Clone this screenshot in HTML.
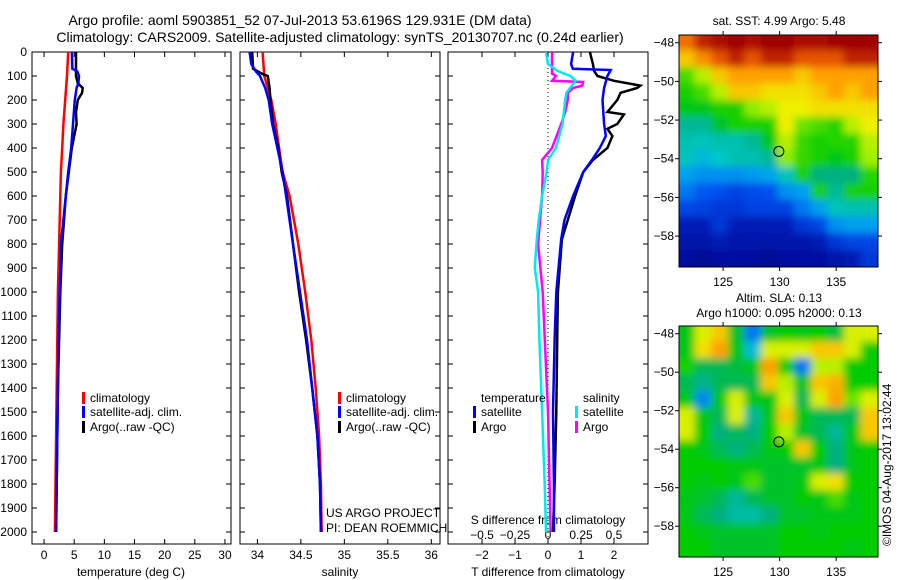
<!DOCTYPE html>
<html><head><meta charset="utf-8"><style>
html,body{margin:0;padding:0;background:#fff;}
svg{display:block;font-family:"Liberation Sans",sans-serif;}
</style></head><body>
<svg id="fig" width="900" height="580" viewBox="0 0 900 580" xmlns="http://www.w3.org/2000/svg">
<defs>
<clipPath id="c1"><rect x="32" y="52" width="199" height="492"/></clipPath>
<clipPath id="c2"><rect x="240" y="52" width="200" height="492"/></clipPath>
<clipPath id="c3"><rect x="448" y="52" width="200" height="492"/></clipPath>
<clipPath id="cm1"><rect x="679" y="35" width="199" height="232"/></clipPath>
<clipPath id="cm2"><rect x="679" y="326" width="199" height="231"/></clipPath>
<filter id="blur" filterUnits="userSpaceOnUse" x="600" y="0" width="300" height="580"><feGaussianBlur stdDeviation="4"/></filter>
</defs>
<text x="300" y="25" font-size="14" text-anchor="middle">Argo profile: aoml 5903851_52 07-Jul-2013 53.6196S 129.931E (DM data)</text>
<text x="340" y="42" font-size="14" text-anchor="middle">Climatology: CARS2009. Satellite-adjusted climatology: synTS_20130707.nc (0.24d earlier)</text>
<g id="g"></g>
</svg>
<script>
// ---------- data ----------
var tDepth   = [0,100,200,300,400,500,600,700,800,1000,1200,1400,1600,1800,2000];
var tClim    = [4.0,3.8,3.5,3.2,3.0,2.8,2.7,2.6,2.5,2.3,2.2,2.1,2.0,1.9,1.8];
var tSatDepth= [0,70,80,100,130,150,200,300,400,500,600,700,800,1000,1200,1400,1600,1800,2000];
var tSat     = [4.6,4.7,5.5,5.8,5.7,5.4,5.1,4.8,4.5,4.0,3.6,3.2,2.8,2.6,2.4,2.3,2.2,2.1,2.0];
var tArgoDepth=[0,100,130,150,170,200,250,300,350,400,500,600,700,800,1000,1200,1400,1600,1800,2000];
var tArgo    = [5.3,5.3,5.6,6.4,6.3,5.6,5.3,5.4,5.0,4.6,4.1,3.6,3.3,3.0,2.7,2.5,2.3,2.2,2.1,2.0];

var sDepth   = [0,100,200,300,400,500,600,800,1000,1200,1400,1600,1800,2000];
var sClim    = [34.06,34.08,34.16,34.21,34.25,34.29,34.37,34.47,34.55,34.62,34.67,34.71,34.73,34.74];
var sSatDepth= [0,50,80,100,150,200,300,400,500,600,800,1000,1200,1400,1600,1800,2000];
var sSat     = [33.91,33.93,33.98,34.03,34.09,34.13,34.17,34.23,34.29,34.33,34.41,34.49,34.57,34.63,34.69,34.72,34.73];
var sArgoDepth=[0,70,90,100,150,200,300,400,500,600,800,1000,1200,1400,1600,1800,2000];
var sArgo    = [33.94,33.95,34.05,34.12,34.14,34.15,34.18,34.24,34.28,34.34,34.41,34.48,34.56,34.63,34.69,34.72,34.73];

var dTSatDepth=[0,50,70,75,100,150,200,300,350,400,450,500,600,700,780,1000,1200,1500,1800,2000];
var dTSat    = [0.76,0.7,0.75,1.9,1.8,1.7,1.65,1.7,1.75,1.57,1.33,1.07,0.76,0.5,0.4,0.25,0.2,0.15,0.18,0.18];
var dTArgoDepth=[0,50,80,100,120,140,150,170,200,250,260,300,320,350,400,450,500,600,700,780,1000,1200,1500,1800,2000];
var dTArgo   = [1.27,1.36,1.4,1.5,2.0,2.8,2.7,2.2,2.1,1.8,2.3,2.1,1.8,1.95,1.8,1.36,1.07,0.82,0.6,0.42,0.3,0.28,0.25,0.2,0.15];
var dSArgoDepth=[0,90,100,120,125,140,150,170,200,250,300,400,430,450,500,600,700,800,1000,1500,2000];
var dSArgo   = [0.03,0.03,0.06,0.03,0.265,0.26,0.19,0.15,0.15,0.13,0.1,0.03,-0.015,-0.045,-0.04,-0.045,-0.06,-0.075,-0.04,0.0,0.02];
var dSSatDepth=[0,50,80,100,120,140,170,200,300,400,450,500,600,700,780,900,1000,1200,1500,1800,2000];
var dSSat    = [-0.015,0,0.075,0.17,0.21,0.18,0.14,0.13,0.11,0.06,0,-0.01,-0.045,-0.07,-0.085,-0.1,-0.075,-0.065,-0.045,-0.025,-0.015];

var depthTicks=[0,100,200,300,400,500,600,700,800,900,1000,1100,1200,1300,1400,1500,1600,1700,1800,1900,2000];
var tTicks=[0,5,10,15,20,25,30];
var sTicks=[34,34.5,35,35.5,36];
var dTTicks=[-2,-1,0,1,2];
var dSTicks=[-0.5,-0.25,0,0.25,0.5];
var lonTicks=[125,130,135];
var latTicks=[-48,-50,-52,-54,-56,-58];

var sstGrid=[
[8.5,9.5,9.8,10,9.8,10,10,9.8,9.8,10,10,10],
[7.5,8.2,8.8,9.5,8.8,9.5,9.5,8.8,8.8,8.8,9.5,9.5],
[5.8,6.5,7.5,8,8,8,8,7.5,8,8,8,8],
[5.5,5.8,6.5,7.5,7.5,7.2,7.2,7.2,7.5,8,7.5,8],
[5.3,5.3,5.5,5.5,6.2,6.5,7,7,7.2,7.2,7.2,7.2],
[4.6,4.6,5.2,5.5,5.5,5.5,7,6,5.8,5.6,6.5,7],
[4.4,4.3,4.4,4.4,4.6,5.3,6.5,5.7,5.5,5.6,5.6,6.5],
[4.3,3.9,4.2,4.4,4.4,4.6,6.2,5.7,5.5,5.3,5.5,6.3],
[3.5,3.3,3.3,3.3,3.4,3.6,4.3,5.5,4.8,4.8,4.8,5.6],
[3,2.6,2.5,2.2,2.4,2.5,3.3,3.5,5.5,4.6,5.5,5.5],
[2.3,2.2,2,2,2.2,2.2,2.2,3,3.5,4.3,4.4,4.4],
[1.3,1.3,2,1.3,1.2,1.3,1.3,2,2.3,3.3,3.5,3.5],
[1,1,1.2,1,1,1,1,1,1.2,2,2.3,2.3],
[0.8,0.5,0.8,0.8,0.8,0.5,0.8,0.8,0.8,1,1.2,2]];
var slaGrid=[
[5.3,6.8,7.5,5.2,3,5.2,5.4,5.3,5.4,5.1,6.8,6.8],
[5.3,7.2,8,5.3,4,6.8,6.8,6.8,7.5,7.5,6.8,5.4],
[5.5,5,5,5.1,5.3,8,5.4,3,6.5,6.5,5.4,5.4],
[5,4.7,5,5,5,7.5,6.5,5.2,7.5,7.8,5.4,5.4],
[5.3,3.2,5.3,6.8,5.3,5.3,6.8,5,6.8,8,6,6.8],
[6.8,5.3,5,6.8,4.6,5.3,7.5,5.3,5,5,5,7.5],
[6.8,5.4,4.8,5,4.8,5.4,6.5,5.2,5,4.6,5.3,7.5],
[5.4,5.3,5,4.8,5,5.3,5.4,7.5,5.4,4.8,5.3,5.4],
[5.4,5.4,5.4,5.3,5.3,5.2,5.2,5.2,5.3,4.8,5.3,5.4],
[5.4,5.3,5.4,5.3,5.8,5.2,5.2,5.3,6.8,7.2,5.4,5.4],
[5.3,5.2,5,4.6,5,5.2,5.2,5.4,5.3,5.8,5.3,5.4],
[5.3,5,4.8,4.5,4.5,4.8,5.2,5.2,5.3,5.3,5.3,5.4],
[5.4,5.3,5.2,5.2,5.2,5.2,5.4,5.4,5.3,5.4,5.4,5.4],
[5.4,5.4,5.2,5.2,5.2,5.2,5.4,5.4,5.4,5.4,5.3,5.4]];
var floatLon=129.931, floatLat=-53.6196;

// ---------- helpers ----------
var NS="http://www.w3.org/2000/svg", G=document.getElementById('g');
function mk(tag,attrs,parent){var e=document.createElementNS(NS,tag);for(var k in attrs)e.setAttribute(k,attrs[k]);(parent||G).appendChild(e);return e;}
function lin(d0,d1,r0,r1){return function(v){return r0+(v-d0)/(d1-d0)*(r1-r0);};}
var yD=lin(0,2050,52,544);
var panels=[
 {x0:32,x1:231,xs:lin(-2,31,32,231),clip:'c1'},
 {x0:240,x1:440,xs:lin(33.8,36.1,240,440),clip:'c2'},
 {x0:448,x1:648,xs:lin(-3.03,3.03,448,648),clip:'c3'}];
function ptsOf(xs,vals,depths,scale){var p=[];for(var i=0;i<vals.length;i++)p.push(xs(vals[i]*(scale||1)).toFixed(1)+','+yD(depths[i]).toFixed(1));return p.join(' ');}
function txt(x,y,s,size,anchor,name,color){var t=mk('text',{x:x,y:y,'font-size':size,'text-anchor':anchor||'start',fill:color||'#000'});t.textContent=s;return t;}

panels.forEach(function(p,pi){
  var f=mk('rect',{x:p.x0,y:52,width:p.x1-p.x0,height:492,fill:'none',stroke:'#000','stroke-width':1});
  
  depthTicks.forEach(function(d){
    var y=yD(d);
    var t1=mk('line',{x1:p.x0,x2:p.x0+5,y1:y,y2:y,stroke:'#000'});
    var t2=mk('line',{x1:p.x1-5,x2:p.x1,y1:y,y2:y,stroke:'#000'});
  });
});
depthTicks.forEach(function(d){txt(27,yD(d)+4,String(d),12,'end','depth-tick-label');});
function xticks(p,ticks,yl,name,scale){ticks.forEach(function(v){var x=p.xs(v*(scale||1));
  var a=mk('line',{x1:x,x2:x,y1:544,y2:539,stroke:'#000'});
  var b=mk('line',{x1:x,x2:x,y1:52,y2:57,stroke:'#000'});
  txt(x,yl,String(v).replace('-','\u2212'),12,'middle',name+'-tick-label');});}
xticks(panels[0],tTicks,559,'temperature');
xticks(panels[1],sTicks,559,'salinity');
xticks(panels[2],dTTicks,559,'t-diff');
dSTicks.forEach(function(v){txt(panels[2].xs(v*4),539,String(v).replace('-','\u2212'),12,'middle','s-diff-tick-label');});
txt(131,576,'temperature (deg C)',12,'middle','x-axis-title-temperature');
txt(340,576,'salinity',12,'middle','x-axis-title-salinity');
txt(548,576,'T difference from climatology',12,'middle','x-axis-title-t-diff');
txt(548,524,'S difference from climatology',12,'middle','s-diff-axis-title');
var zl=mk('line',{x1:548,x2:548,y1:52,y2:544,stroke:'#000','stroke-dasharray':'1,3'});

function series(pi,vals,depths,color,name,scale){var p=panels[pi];
  var l=mk('polyline',{points:ptsOf(p.xs,vals,depths,scale),fill:'none',stroke:color,'stroke-width':2.5,'clip-path':'url(#'+p.clip+')'});
  }
series(0,tClim,tDepth,'#ff0000','temperature-climatology-line');
series(0,tArgo,tArgoDepth,'#000000','temperature-argo-line');
series(0,tSat,tSatDepth,'#0000ff','temperature-satellite-line');
series(1,sClim,sDepth,'#ff0000','salinity-climatology-line');
series(1,sArgo,sArgoDepth,'#000000','salinity-argo-line');
series(1,sSat,sSatDepth,'#0000ff','salinity-satellite-line');
series(2,dSArgo,dSArgoDepth,'#ff00ff','s-diff-argo-line',4);
series(2,dSSat,dSSatDepth,'#00e8f0','s-diff-satellite-line',4);
series(2,dTArgo,dTArgoDepth,'#000000','t-diff-argo-line');
series(2,dTSat,dTSatDepth,'#0000ff','t-diff-satellite-line');

function legItem(x,y,color,label,name){var r=mk('rect',{x:x,y:y-10,width:3,height:12,fill:color});txt(x+8,y,label,12,'start',name);}
[[82,'p1'],[338,'p2']].forEach(function(L){
  legItem(L[0],402,'#ff0000','climatology','legend-'+L[1]+'-climatology');
  legItem(L[0],416,'#0000ff','satellite-adj. clim.','legend-'+L[1]+'-satellite');
  legItem(L[0],431,'#000000','Argo(..raw -QC)','legend-'+L[1]+'-argo');});
txt(481,402,'temperature',12,'start','legend-temperature-header');
txt(583,402,'salinity',12,'start','legend-salinity-header');
legItem(473,416,'#0000ff','satellite','legend-t-satellite');
legItem(473,431,'#000000','Argo','legend-t-argo');
legItem(575,416,'#00e8f0','satellite','legend-s-satellite');
legItem(575,431,'#ff00ff','Argo','legend-s-argo');
txt(326,517,'US ARGO PROJECT',12,'start','project-label');
txt(326,532,'PI: DEAN ROEMMICH',12,'start','pi-label');

// ---------- maps ----------
var stops=[[0,[0,0,128]],[1.5,[0,32,192]],[2.5,[0,80,240]],[3.5,[0,160,240]],[4.2,[0,200,200]],[4.8,[0,176,128]],[5.4,[0,204,0]],[6.3,[160,240,0]],[7,[240,240,0]],[8,[255,160,0]],[9,[224,64,0]],[10,[160,0,0]]];
function cmap(v){if(v<=stops[0][0])return 'rgb('+stops[0][1]+')';for(var i=1;i<stops.length;i++){if(v<=stops[i][0]){var a=stops[i-1],b=stops[i],t=(v-a[0])/(b[0]-a[0]);return 'rgb('+[0,1,2].map(function(k){return Math.round(a[1][k]+t*(b[1][k]-a[1][k]));}).join(',')+')';}}return 'rgb('+stops[stops.length-1][1]+')';}
function drawMap(grid,x0,y0,w,h,clip,name){
  var lonS=lin(121.1,138.7,x0,x0+w), latS=lin(-47.6,-59.6,y0,y0+h);
  var g=mk('g',{'clip-path':'url(#'+clip+')'});
  var inner=mk('g',{filter:'url(#blur)'},g);
  var rows=grid.length, cols=grid[0].length, cw=w/cols, ch=h/rows;
  for(var r=0;r<rows;r++)for(var c=0;c<cols;c++){
    var ex0=(c===0?-12:-1), ey0=(r===0?-12:-1), ex1=(c===cols-1?12:1), ey1=(r===rows-1?12:1);
    var cell=mk('rect',{x:(x0+c*cw+ex0).toFixed(1),y:(y0+r*ch+ey0).toFixed(1),width:(cw+ex1-ex0).toFixed(1),height:(ch+ey1-ey0).toFixed(1),fill:cmap(grid[r][c])},inner);
    }
  var fr=mk('rect',{x:x0,y:y0,width:w,height:h,fill:'none',stroke:'#000'});
  lonTicks.forEach(function(v){var x=lonS(v);
    var a=mk('line',{x1:x,x2:x,y1:y0,y2:y0-4,stroke:'#000'});
    var b=mk('line',{x1:x,x2:x,y1:y0+h,y2:y0+h+4,stroke:'#000'});
    txt(x,y0+h+19,String(v),12,'middle','lon-tick-label');});
  latTicks.forEach(function(v){var y=latS(v);
    var a=mk('line',{x1:x0,x2:x0-4,y1:y,y2:y,stroke:'#000'});
    var b=mk('line',{x1:x0+w,x2:x0+w+4,y1:y,y2:y,stroke:'#000'});
    txt(x0-5,y+4,String(v).replace('-','\u2212'),12,'end','lat-tick-label');});
  var m=mk('circle',{cx:lonS(floatLon),cy:latS(floatLat),r:5,fill:'none',stroke:'#000','stroke-width':1});
}
drawMap(sstGrid,679,35,199,232,'cm1','sst-map');
drawMap(slaGrid,679,326,199,231,'cm2','sla-map');
txt(779,25,'sat. SST: 4.99 Argo: 5.48',12,'middle','sst-map-title');
txt(779,302,'Altim. SLA: 0.13',12,'middle','sla-map-title');
txt(779,317,'Argo h1000: 0.095 h2000: 0.13',12,'middle','sla-map-subtitle');
var im=txt(0,0,'\u00a9IMOS 04-Aug-2017 13:02:44',12,'start','timestamp-label');
im.setAttribute('transform','translate(891,546) rotate(-90)');
</script>
</body></html>
